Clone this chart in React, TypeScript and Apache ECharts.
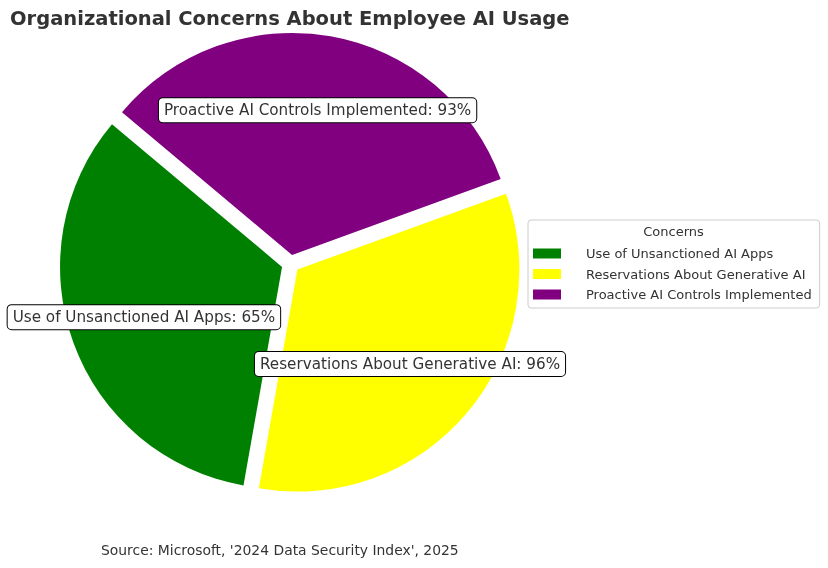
import React, { useEffect, useRef } from "react";
import * as echarts from "echarts";

const categories = [
  "Use of Unsanctioned AI Apps",
  "Reservations About Generative AI",
  "Proactive AI Controls Implemented",
];
const percentages = [65, 96, 93];
// slice sizes as drawn in the reference (three equal wedges)
const sliceWeights = [1, 1, 1];
const colors = ["#008000", "#ffff00", "#800080"];

const FONT = "DejaVu Sans";

export default function App() {
  const ref = useRef<HTMLDivElement>(null);
  useEffect(() => {
    if (!ref.current) return;
    const chart = echarts.init(ref.current, null, { renderer: "svg" });
    const center = [290.5, 263.8];
    const mainData = categories.map((name, i) => ({
      name,
      value: sliceWeights[i],
      selected: true,
      itemStyle: { color: colors[i] },
    }));
    const labelData = categories.map((name, i) => ({
      name,
      value: sliceWeights[i],
      selected: true,
      pct: percentages[i],
    }));
    chart.setOption({
      animation: false,
      color: colors,
      title: [
        {
          text: "Organizational Concerns About Employee AI Usage",
          left: 10,
          top: 8,
          padding: 0,
          textStyle: { fontFamily: FONT, fontSize: 19.5, fontWeight: "bold", color: "#333333" },
        },
        {
          text: "Concerns",
          left: 673.5,
          textAlign: "center",
          top: 225,
          padding: 0,
          textStyle: { fontFamily: FONT, fontSize: 13, fontWeight: "normal", color: "#333333" },
        },
        {
          text: "Source: Microsoft, '2024 Data Security Index', 2025",
          left: 101,
          top: 543,
          padding: 0,
          textStyle: { fontFamily: FONT, fontSize: 13.9, fontWeight: "normal", color: "#333333" },
        },
      ],
      legend: {
        orient: "vertical",
        left: 528,
        top: 220,
        data: categories,
        icon: "rect",
        itemWidth: 28,
        itemHeight: 10,
        itemGap: 7.5,
        selectedMode: false,
        padding: [27, 8, 7, 5],
        backgroundColor: "rgba(255,255,255,0.8)",
        borderColor: "#cccccc",
        borderWidth: 1,
        borderRadius: 3,
        textStyle: {
          fontFamily: FONT,
          fontSize: 13,
          color: "#333333",
          padding: [0, 0, 0, 20],
        },
      },
      series: [
        {
          type: "pie",
          center,
          radius: [0, 222],
          startAngle: 140,
          clockwise: false,
          selectedMode: "multiple",
          selectedOffset: 9,
          silent: true,
          label: { show: false },
          labelLine: { show: false },
          emphasis: { disabled: true },
          data: mainData,
        },
        {
          type: "pie",
          center,
          radius: [0, 288],
          startAngle: 140,
          clockwise: false,
          selectedMode: "multiple",
          selectedOffset: 9,
          silent: true,
          legendHoverLink: false,
          itemStyle: { color: "rgba(0,0,0,0)" },
          emphasis: { disabled: true },
          labelLine: { show: false },
          label: {
            show: true,
            position: "inside",
            formatter: (p: any) => `${p.name}: ${p.data.pct}%`,
            fontFamily: FONT,
            fontSize: 15.2,
            color: "#333333",
            backgroundColor: "#ffffff",
            borderColor: "#000000",
            borderWidth: 1,
            borderRadius: 4,
            padding: [5, 5, 4, 5],
          },
          data: labelData,
        },
      ],
    });
    return () => chart.dispose();
  }, []);
  return (
    <div
      ref={ref}
      style={{ position: "fixed", left: 0, top: 0, width: 828, height: 568 }}
    />
  );
}
